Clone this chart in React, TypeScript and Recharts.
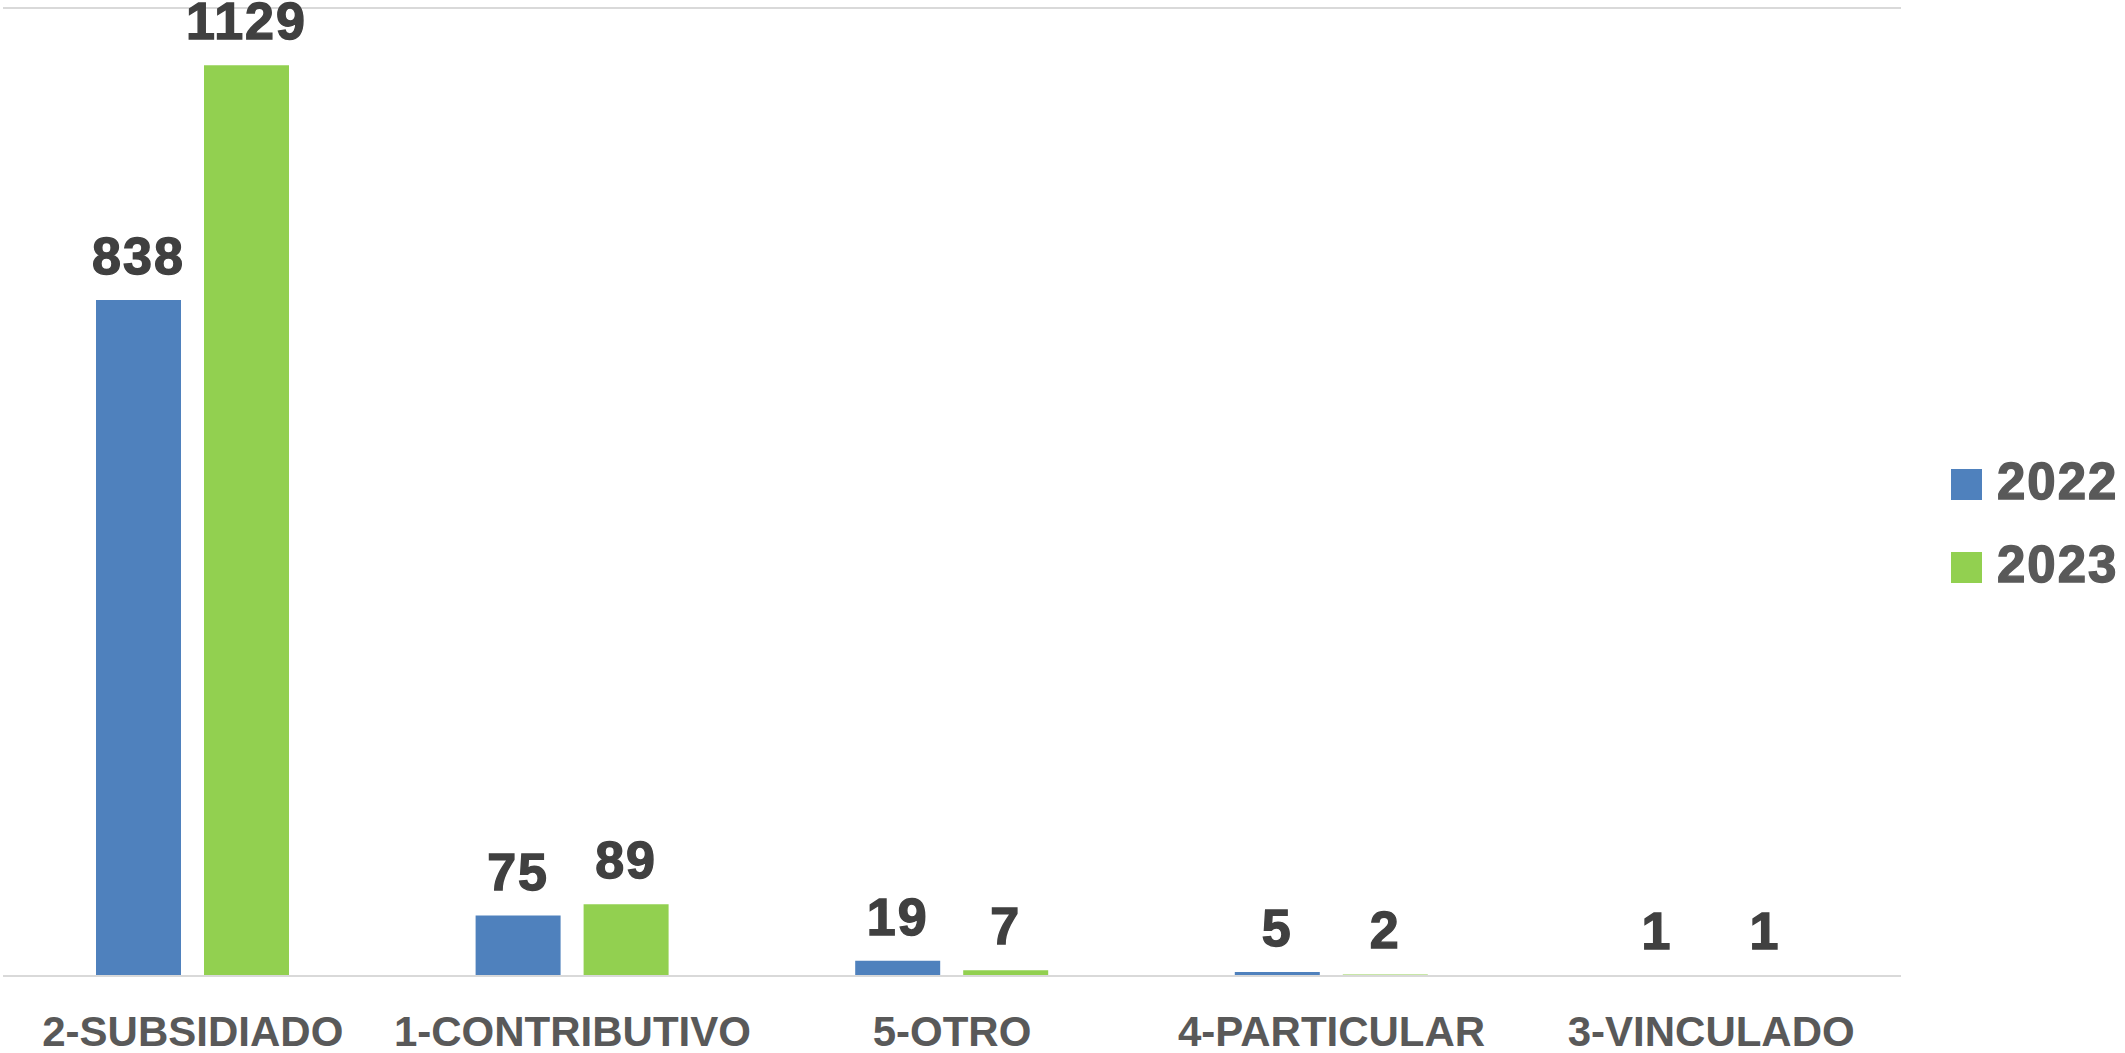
import { BarChart, Bar, XAxis, YAxis, CartesianGrid, LabelList } from "recharts";

const categories = ["2-SUBSIDIADO", "1-CONTRIBUTIVO", "5-OTRO", "4-PARTICULAR", "3-VINCULADO"];
const values2022 = [838, 75, 19, 5, 1];
const values2023 = [1129, 89, 7, 2, 1];
const seriesNames = ["2022", "2023"];
const yTicks = [0, 200, 400, 600, 800, 1000, 1200];

const COLORS = ["#4f81bd", "#92d050"];
const FONT = "'Liberation Sans', Arial, sans-serif";

const data = categories.map((name, i) => ({
  name,
  "2022": values2022[i],
  "2023": values2023[i],
}));

const CategoryTick = ({ x, y, payload }: any) => (
  <text
    x={x}
    y={y}
    dy={70}
    textAnchor="middle"
    fontFamily={FONT}
    fontWeight="bold"
    fontSize={42}
    fill="#595959"
  >
    {payload.value}
  </text>
);

// heavier value labels, like the original
const ValueLabel = ({ x, y, width, value }: any) => (
  <text
    x={x + width / 2}
    y={y - 26}
    textAnchor="middle"
    fontFamily={FONT}
    fontWeight="bold"
    fontSize={52}
    letterSpacing={2}
    fill="#404040"
    stroke="#404040"
    strokeWidth={1.4}
  >
    {value}
  </text>
);

export default function App() {
  return (
    <div style={{ position: "absolute", left: 0, top: 0, width: 2125, height: 1053, background: "#fff" }}>
      <BarChart
        width={2125}
        height={1053}
        data={data}
        margin={{ top: 8, right: 224, left: 3, bottom: 0 }}
        barSize={85}
        barGap={23}
      >
        <CartesianGrid vertical={false} stroke="#d9d9d9" strokeWidth={2} />
        <XAxis
          dataKey="name"
          height={77}
          axisLine={{ stroke: "#d9d9d9", strokeWidth: 2 }}
          tickLine={false}
          tickSize={0}
          tickMargin={0}
          interval={0}
          tick={<CategoryTick />}
        />
        <YAxis
          width={0}
          domain={[0, 1200]}
          ticks={yTicks}
          axisLine={false}
          tickLine={false}
          tick={false}
        />
        {seriesNames.map((s, i) => (
          <Bar key={s} dataKey={s} fill={COLORS[i]} isAnimationActive={false}>
            <LabelList dataKey={s} content={<ValueLabel />} />
          </Bar>
        ))}
      </BarChart>

      {/* legend on the right */}
      <div style={{ position: "absolute", left: 1951, top: 443 }}>
        {seriesNames.map((s, i) => (
          <div key={s} style={{ display: "flex", alignItems: "center", height: 83 }}>
            <div style={{ width: 31, height: 31, background: COLORS[i], marginRight: 15 }} />
            <span
              style={{
                fontFamily: FONT,
                fontWeight: "bold",
                fontSize: 51,
                lineHeight: "51px",
                letterSpacing: 2,
                color: "#595959",
                WebkitTextStroke: "1.4px #595959",
                marginTop: -6,
              }}
            >
              {s}
            </span>
          </div>
        ))}
      </div>
    </div>
  );
}
